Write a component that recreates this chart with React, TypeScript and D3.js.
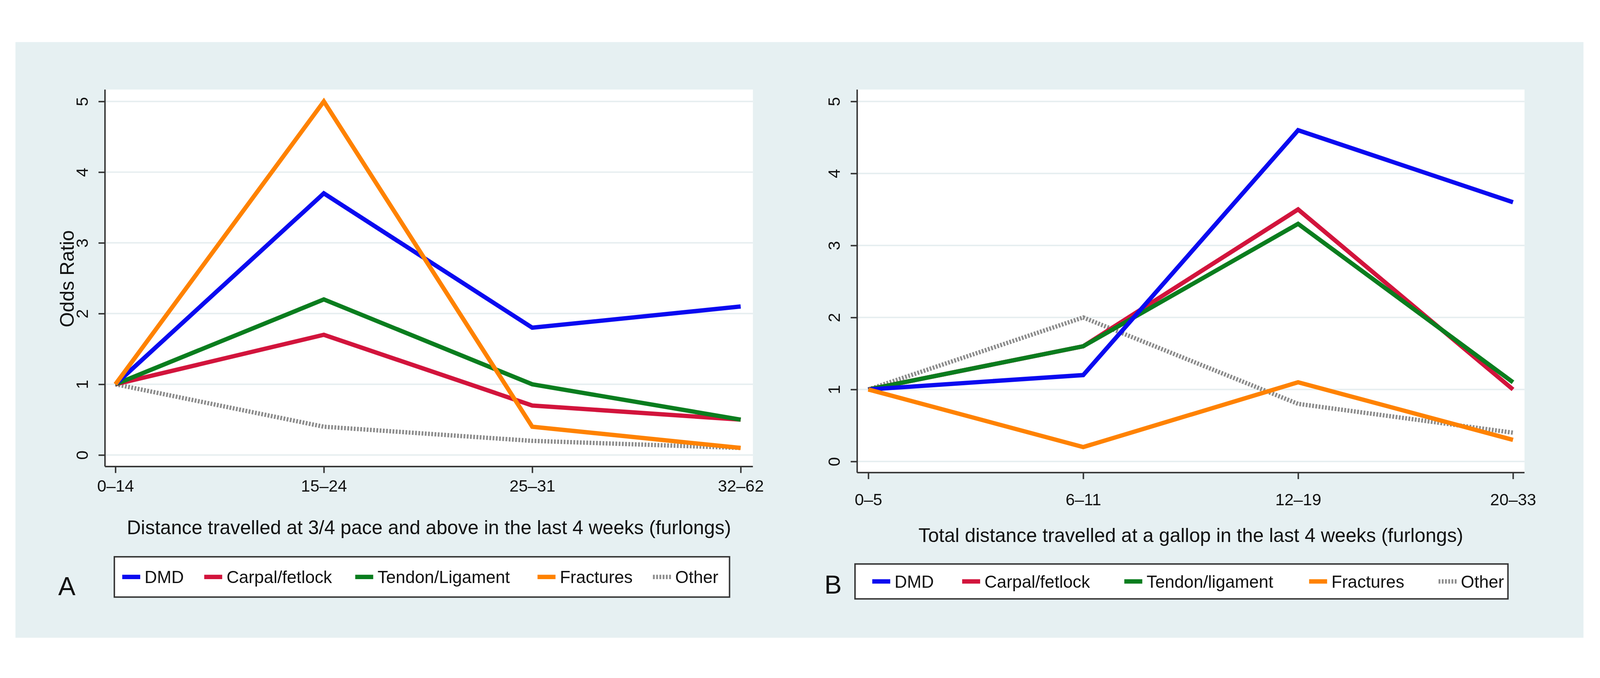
import * as d3 from "d3";
import React, { useRef, useEffect } from "react";

const W = 4450;
const H = 1735;

const seriesNames = ["DMD", "Carpal/fetlock", "Tendon/Ligament", "Fractures", "Other"];
const seriesNamesB = ["DMD", "Carpal/fetlock", "Tendon/ligament", "Fractures", "Other"];
const colors = ["#0a0af0", "#d2143c", "#0a7d1e", "#ff8200", "#8c8c8c"];

const catsA = ["0–14", "15–24", "25–31", "32–62"];
const catsB = ["0–5", "6–11", "12–19", "20–33"];

const dmdA = [1, 3.7, 1.8, 2.1];
const carpalA = [1, 1.7, 0.7, 0.5];
const tendonA = [1, 2.2, 1.0, 0.5];
const fractA = [1, 5.0, 0.4, 0.1];
const otherA = [1, 0.4, 0.2, 0.1];

const dmdB = [1, 1.2, 4.6, 3.6];
const carpalB = [1, 1.6, 3.5, 1.0];
const tendonB = [1, 1.6, 3.3, 1.1];
const fractB = [1, 0.2, 1.1, 0.3];
const otherB = [1, 2.0, 0.8, 0.4];

const yTicks = [0, 1, 2, 3, 4, 5];

const panels = [
  {
    cats: catsA, series: [dmdA, carpalA, tendonA, fractA, otherA], names: seriesNames,
    box: [292, 174, 2094, 1222], xr: [321, 2060], yr: [1190, 207],
    title: "Distance travelled at 3/4 pace and above in the last 4 weeks (furlongs)",
    titleY: 1410, tickY: 1292, ytitle: true,
    legend: [318, 1473, 2029, 1585], keys: [340, 568, 988, 1495, 1816], label: "A", labelXY: [162, 1580],
  },
  {
    cats: catsB, series: [dmdB, carpalB, tendonB, fractB, otherB], names: seriesNamesB,
    box: [2384, 174, 4240, 1239], xr: [2415, 4208], yr: [1208, 207],
    title: "Total distance travelled at a gallop in the last 4 weeks (furlongs)",
    titleY: 1432, tickY: 1330, ytitle: false,
    legend: [2378, 1493, 4194, 1590], keys: [2426, 2676, 3127, 3641, 4001], label: "B", labelXY: [2293, 1575],
  },
];

export default function App() {
  const ref = useRef(null);
  useEffect(() => {
    const svg = d3.select(ref.current);
    svg.selectAll("*").remove();
    svg.append("rect").attr("width", W).attr("height", H).attr("fill", "white");
    svg.append("rect").attr("x", 43).attr("y", 42).attr("width", 4361).attr("height", 1656).attr("fill", "#e6f0f2");
    const font = "Arial, 'Liberation Sans', sans-serif";

    panels.forEach((p) => {
      const [x0, y0, x1, y1] = p.box;
      const x = d3.scalePoint().domain(p.cats).range(p.xr as [number, number]);
      const y = d3.scaleLinear().domain([0, 5]).range(p.yr as [number, number]);
      const g = svg.append("g");
      g.append("rect").attr("x", x0).attr("y", y0).attr("width", x1 - x0).attr("height", y1 - y0).attr("fill", "white");
      // gridlines
      g.selectAll(".grid").data(yTicks).join("line")
        .attr("x1", x0).attr("x2", x1).attr("y1", (d) => y(d)).attr("y2", (d) => y(d))
        .attr("stroke", "#e6eef0").attr("stroke-width", 4);
      // axes
      const ya = g.append("g").attr("transform", `translate(${x0},0)`)
        .call(d3.axisLeft(y).tickValues(yTicks).tickSize(18).tickFormat(d3.format("d")));
      ya.select(".domain").attr("d", `M0,${y0}V${y1}`).attr("stroke", "#333").attr("stroke-width", 4);
      ya.selectAll(".tick line").attr("stroke", "#333").attr("stroke-width", 4);
      ya.selectAll(".tick text").attr("font-size", 46).attr("font-family", font).attr("fill", "#111")
        .attr("transform", "rotate(-90)").attr("x", 0).attr("y", -48).attr("dy", "0").attr("text-anchor", "middle");
      const xa = g.append("g").attr("transform", `translate(0,${y1})`)
        .call(d3.axisBottom(x).tickSize(18));
      xa.select(".domain").attr("d", `M${x0},0H${x1}`).attr("stroke", "#333").attr("stroke-width", 4);
      xa.selectAll(".tick line").attr("stroke", "#333").attr("stroke-width", 4);
      xa.selectAll(".tick text").attr("font-size", 46).attr("font-family", font).attr("fill", "#111")
        .attr("y", p.tickY - y1).attr("dy", "0");

      const line = d3.line<number>().x((_, i) => x(p.cats[i]) as number).y((d) => y(d));
      const order = [4, 1, 2, 0, 3];
      order.forEach((si) => {
        g.append("path").attr("d", line(p.series[si]) as string).attr("fill", "none")
          .attr("stroke", colors[si]).attr("stroke-width", 12).attr("stroke-linejoin", "miter")
          .attr("stroke-dasharray", si === 4 ? "5,4" : null);
      });

      g.append("text").attr("x", (x0 + x1) / 2).attr("y", p.titleY).attr("text-anchor", "middle")
        .attr("font-size", 54).attr("font-family", font).attr("fill", "#111").text(p.title);
      if (p.ytitle) {
        g.append("text").attr("transform", `translate(205,700) rotate(-90)`).attr("text-anchor", "middle")
          .attr("font-size", 54).attr("font-family", font).attr("fill", "#111").text("Odds Ratio");
      }
      const [lx0, ly0, lx1, ly1] = p.legend;
      g.append("rect").attr("x", lx0).attr("y", ly0).attr("width", lx1 - lx0).attr("height", ly1 - ly0)
        .attr("fill", "white").attr("stroke", "#333").attr("stroke-width", 4);
      const ly = (ly0 + ly1) / 2;
      p.names.forEach((n, i) => {
        const kx = p.keys[i];
        g.append("line").attr("x1", kx).attr("x2", kx + 50).attr("y1", ly).attr("y2", ly)
          .attr("stroke", colors[i]).attr("stroke-width", 12).attr("stroke-dasharray", i === 4 ? "5,4" : null);
        g.append("text").attr("x", kx + 62).attr("y", ly + 17).attr("font-size", 48).attr("font-family", font)
          .attr("fill", "#111").text(n);
      });
      g.append("text").attr("x", p.labelXY[0]).attr("y", p.labelXY[1]).attr("font-size", 72)
        .attr("font-family", font).attr("fill", "#111").text(p.label);
    });
  }, []);
  return (
    <svg
      ref={ref}
      viewBox={`0 0 ${W} ${H}`}
      preserveAspectRatio="xMidYMid meet"
      style={{ position: "fixed", left: 0, top: 0, width: "100vw", height: "100vh", display: "block" }}
    />
  );
}
